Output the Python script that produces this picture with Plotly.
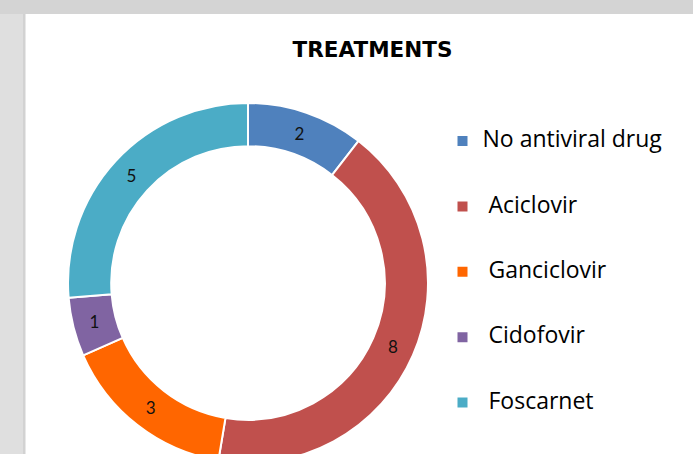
import plotly.graph_objects as go

# ---- data ----
labels = ["No antiviral drug", " Aciclovir", " Ganciclovir", " Cidofovir", " Foscarnet"]
values = [2, 8, 3, 1, 5]
colors = ["#4F81BD", "#C0504D", "#FF6600", "#8064A2", "#4BACC6"]
title_text = "TREATMENTS"

W, H = 693, 472

# legend entries: spacer lines above/below give the tall legend rows of the original
legend_labels = ["<br><span style='font-size:23px'>%s</span><br>" % l for l in labels]

fig = go.Figure(
    go.Pie(
        labels=legend_labels,
        values=values,
        marker=dict(colors=colors, line=dict(color="white", width=2)),
        hole=0.76,
        sort=False,
        direction="clockwise",
        rotation=0,
        textinfo="value",
        textposition="inside",
        insidetextorientation="horizontal",
        textfont=dict(family="Lato", size=17, color="#111111"),
        domain=dict(x=[68 / W, 428 / W], y=[(H - 283 - 180) / H, (H - 283 + 180) / H]),
        hoverinfo="skip",
    )
)

shapes = [
    dict(type="rect", xref="paper", yref="paper", x0=0, x1=1, y0=1 - 14 / H, y1=1,
         fillcolor="#D4D4D4", line=dict(width=0), layer="below"),
    dict(type="rect", xref="paper", yref="paper", x0=0, x1=24 / W, y0=0, y1=1 - 14 / H,
         fillcolor="#DFDFDF", line=dict(width=0), layer="below"),
    dict(type="rect", xref="paper", yref="paper", x0=23 / W, x1=25.5 / W, y0=0, y1=1 - 14 / H,
         fillcolor="#D2D2D2", line=dict(width=0), layer="below"),
]

fig.update_layout(
    width=W,
    height=H,
    margin=dict(l=0, r=0, t=0, b=0),
    paper_bgcolor="white",
    plot_bgcolor="white",
    shapes=shapes,
    title=dict(
        text="<b>%s</b>" % title_text,
        x=372.5 / W, xanchor="center",
        y=1 - 49.5 / H, yanchor="middle",
        xref="paper", yref="container",
        font=dict(family="DejaVu Sans", size=21.5, color="#000000"),
    ),
    legend=dict(
        x=442.5 / W, xanchor="left",
        y=1 - 103.3 / H, yanchor="top",
        font=dict(family="Open Sans", size=16, color="#000000"),
        bgcolor="rgba(0,0,0,0)",
        traceorder="normal",
    ),
    showlegend=True,
)

fig.write_html(
    "out.html",
    config={"displayModeBar": False},
    post_script="document.body.style.margin='0';document.body.style.overflow='hidden';",
)
